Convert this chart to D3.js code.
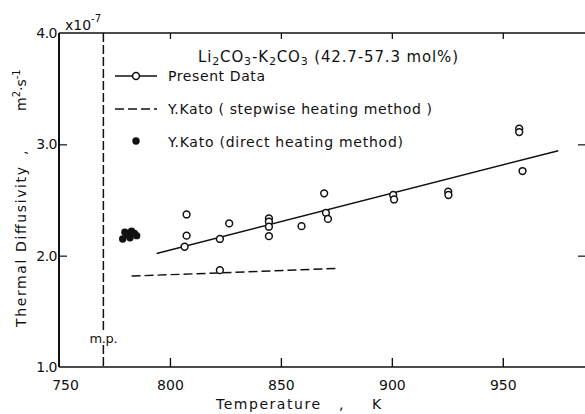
<!DOCTYPE html>
<html>
<head>
<meta charset="utf-8">
<script src="https://cdn.jsdelivr.net/npm/d3@7"></script>
<style>
  body { margin: 0; background: #fff; }
  svg { display: block; font-family: "DejaVu Sans", sans-serif; }
</style>
</head>
<body>
<div id="chart"></div>
<script>
// present data (open circles)
const presentT = [806.6, 807.5, 807.5, 822.5, 822.5, 826.7, 844.6, 844.6, 844.6, 844.6, 859.3, 869.5, 870.3, 871.2, 900.6, 901.0, 925.4, 925.5, 957.4, 957.4, 958.9];
const presentD = [2.08, 2.18, 2.37, 2.15, 1.87, 2.29, 2.335, 2.305, 2.26, 2.175, 2.265, 2.56, 2.385, 2.33, 2.545, 2.505, 2.575, 2.545, 3.14, 3.11, 2.76];
// fitted line through present data
const fitT = [794, 975];
const fitD = [2.02, 2.943];
// Y.Kato stepwise heating (dashed)
const stepT = [782.7, 822.5, 875.5];
const stepD = [1.817, 1.845, 1.886];
// Y.Kato direct heating (filled dots)
const directT = [778.7, 779.7, 781, 782, 782.7, 784, 785];
const directD = [2.15, 2.21, 2.19, 2.16, 2.22, 2.2, 2.18];
const meltingPoint = 770;
const xTicks = [750, 800, 850, 900, 950];
const yTicks = [1.0, 2.0, 3.0, 4.0];

const W = 585, H = 414;
const x = d3.scaleLinear().domain([750, 987.5]).range([59, 586]);
const y = d3.scaleLinear().domain([1, 4]).range([367, 33]);

const svg = d3.select('#chart').append('svg')
  .attr('width', W).attr('height', H);

const ink = '#111';

// frame lines
svg.append('line').attr('x1', x(750)).attr('x2', x(750)).attr('y1', y(4)).attr('y2', y(1))
  .attr('stroke', ink).attr('stroke-width', 2);
svg.append('line').attr('x1', x(750)).attr('x2', W).attr('y1', y(1)).attr('y2', y(1))
  .attr('stroke', ink).attr('stroke-width', 1.6);
svg.append('line').attr('x1', x(750)).attr('x2', W).attr('y1', y(4)).attr('y2', y(4))
  .attr('stroke', ink).attr('stroke-width', 1.3);

// bottom axis (ticks pointing up)
const axBottom = svg.append('g').attr('transform', `translate(0,${y(1)})`)
  .call(d3.axisBottom(x).tickValues(xTicks).tickSize(-9).tickPadding(13).tickFormat(d3.format('d')));
axBottom.select('.domain').remove();
axBottom.selectAll('line').attr('stroke', ink).attr('stroke-width', 1.4);
axBottom.selectAll('line').filter(d => d === 750).remove();
axBottom.selectAll('text').attr('font-size', 14).attr('fill', ink).attr('font-family', 'DejaVu Sans')
  .attr('dx', d => d === 750 ? 6 : 0);

// top axis ticks
const axTop = svg.append('g').attr('transform', `translate(0,${y(4)})`)
  .call(d3.axisTop(x).tickValues(xTicks.slice(1)).tickSize(-6).tickFormat(''));
axTop.select('.domain').remove();
axTop.selectAll('line').attr('stroke', ink).attr('stroke-width', 1.3);

// left axis
const axLeft = svg.append('g').attr('transform', `translate(${x(750)},0)`)
  .call(d3.axisLeft(y).tickValues(yTicks).tickSize(-8).tickPadding(3).tickFormat(d3.format('.1f')));
axLeft.select('.domain').remove();
axLeft.selectAll('line').attr('stroke', ink).attr('stroke-width', 1.2);
axLeft.selectAll('line').filter(d => d === 1 || d === 4).remove();
axLeft.selectAll('text').attr('font-size', 14).attr('fill', ink).attr('font-family', 'DejaVu Sans')
  .attr('letter-spacing', -0.5).attr('dx', 1);

// right axis ticks (axis line sits just outside the picture)
const axRight = svg.append('g').attr('transform', `translate(${x(987.5)},0)`)
  .call(d3.axisRight(y).tickValues([2, 3]).tickSize(-8).tickFormat(''));
axRight.select('.domain').remove();
axRight.selectAll('line').attr('stroke', ink).attr('stroke-width', 1.2);

// multiplier
const mult = svg.append('text').attr('x', 65).attr('y', 30).attr('font-size', 14).attr('fill', ink);
mult.append('tspan').text('x10');
mult.append('tspan').attr('font-size', 10).attr('dy', -8).text('-7');

// melting point line
svg.append('line').attr('x1', x(meltingPoint)).attr('x2', x(meltingPoint))
  .attr('y1', y(4)).attr('y2', y(1))
  .attr('stroke', ink).attr('stroke-width', 1.5).attr('stroke-dasharray', '9,3');
svg.append('rect').attr('x', x(meltingPoint) - 16).attr('y', 330).attr('width', 32).attr('height', 15)
  .attr('fill', '#fff');
svg.append('text').attr('x', x(meltingPoint)).attr('y', 343).attr('text-anchor', 'middle')
  .attr('font-size', 13).attr('fill', ink).attr('letter-spacing', -0.3).text('m.p.');

// fitted line
svg.append('path').datum(fitT.map((t, i) => [t, fitD[i]]))
  .attr('d', d3.line().x(d => x(d[0])).y(d => y(d[1])))
  .attr('fill', 'none').attr('stroke', ink).attr('stroke-width', 1.5);

// stepwise heating line
svg.append('path').datum(stepT.map((t, i) => [t, stepD[i]]))
  .attr('d', d3.line().x(d => x(d[0])).y(d => y(d[1])))
  .attr('fill', 'none').attr('stroke', ink).attr('stroke-width', 1.4).attr('stroke-dasharray', '9,4');

// present data circles
svg.selectAll('.pres').data(presentT.map((t, i) => [t, presentD[i]])).enter()
  .append('circle').attr('class', 'pres')
  .attr('cx', d => x(d[0])).attr('cy', d => y(d[1])).attr('r', 3.4)
  .attr('fill', '#fff').attr('stroke', ink).attr('stroke-width', 1.5);

// direct heating dots
svg.selectAll('.dir').data(directT.map((t, i) => [t, directD[i]])).enter()
  .append('circle').attr('class', 'dir')
  .attr('cx', d => x(d[0])).attr('cy', d => y(d[1])).attr('r', 3.7)
  .attr('fill', ink);

// legend
const lg = svg.append('g').attr('fill', ink).attr('font-size', 14);
const title = lg.append('text').attr('x', 198).attr('y', 62).attr('font-size', 15)
  .attr('textLength', 260).attr('lengthAdjust', 'spacing');
[['Li', 0], ['2', 1], ['CO', 0], ['3', 1], ['-K', 0], ['2', 1], ['CO', 0], ['3', 1], [' (42.7-57.3 mol%)', 0]]
  .forEach(([s, sub]) => {
    const t = title.append('tspan').text(s);
    if (sub) t.attr('font-size', 11).attr('baseline-shift', '-3');
  });

lg.append('line').attr('x1', 115).attr('x2', 157).attr('y1', 76).attr('y2', 76)
  .attr('stroke', ink).attr('stroke-width', 1.5);
lg.append('circle').attr('cx', 136).attr('cy', 76).attr('r', 3.4)
  .attr('fill', '#fff').attr('stroke', ink).attr('stroke-width', 1.5);
lg.append('text').attr('x', 168).attr('y', 81).attr('textLength', 97).attr('lengthAdjust', 'spacing')
  .text('Present  Data');

lg.append('line').attr('x1', 115).attr('x2', 157).attr('y1', 109).attr('y2', 109)
  .attr('stroke', ink).attr('stroke-width', 1.4).attr('stroke-dasharray', '9,4');
lg.append('text').attr('x', 168).attr('y', 114).attr('textLength', 264).attr('lengthAdjust', 'spacing')
  .text('Y.Kato ( stepwise heating method )');

lg.append('circle').attr('cx', 136).attr('cy', 141).attr('r', 3.7).attr('fill', ink);
lg.append('text').attr('x', 168).attr('y', 147).attr('textLength', 235).attr('lengthAdjust', 'spacing')
  .text('Y.Kato (direct heating method)');

// x axis title
const xt = svg.append('g').attr('fill', ink).attr('font-size', 14);
xt.append('text').attr('x', 216).attr('y', 409).attr('textLength', 104).attr('lengthAdjust', 'spacing')
  .text('Temperature');
xt.append('text').attr('x', 339).attr('y', 409).text(',');
xt.append('text').attr('x', 372).attr('y', 409).text('K');

// y axis title
const yt = svg.append('g').attr('fill', ink).attr('font-size', 14);
yt.append('text').attr('transform', 'translate(26,327) rotate(-90)')
  .attr('textLength', 160).attr('lengthAdjust', 'spacing').text('Thermal  Diffusivity');
yt.append('text').attr('transform', 'translate(26,155) rotate(-90)').text(',');
const unit = yt.append('text').attr('transform', 'translate(26,111) rotate(-90)');
unit.append('tspan').text('m');
unit.append('tspan').attr('font-size', 10).attr('dy', -6).text('2');
unit.append('tspan').attr('dy', 6).text('·s');
unit.append('tspan').attr('font-size', 10).attr('dy', -6).text('-1');
</script>
</body>
</html>
